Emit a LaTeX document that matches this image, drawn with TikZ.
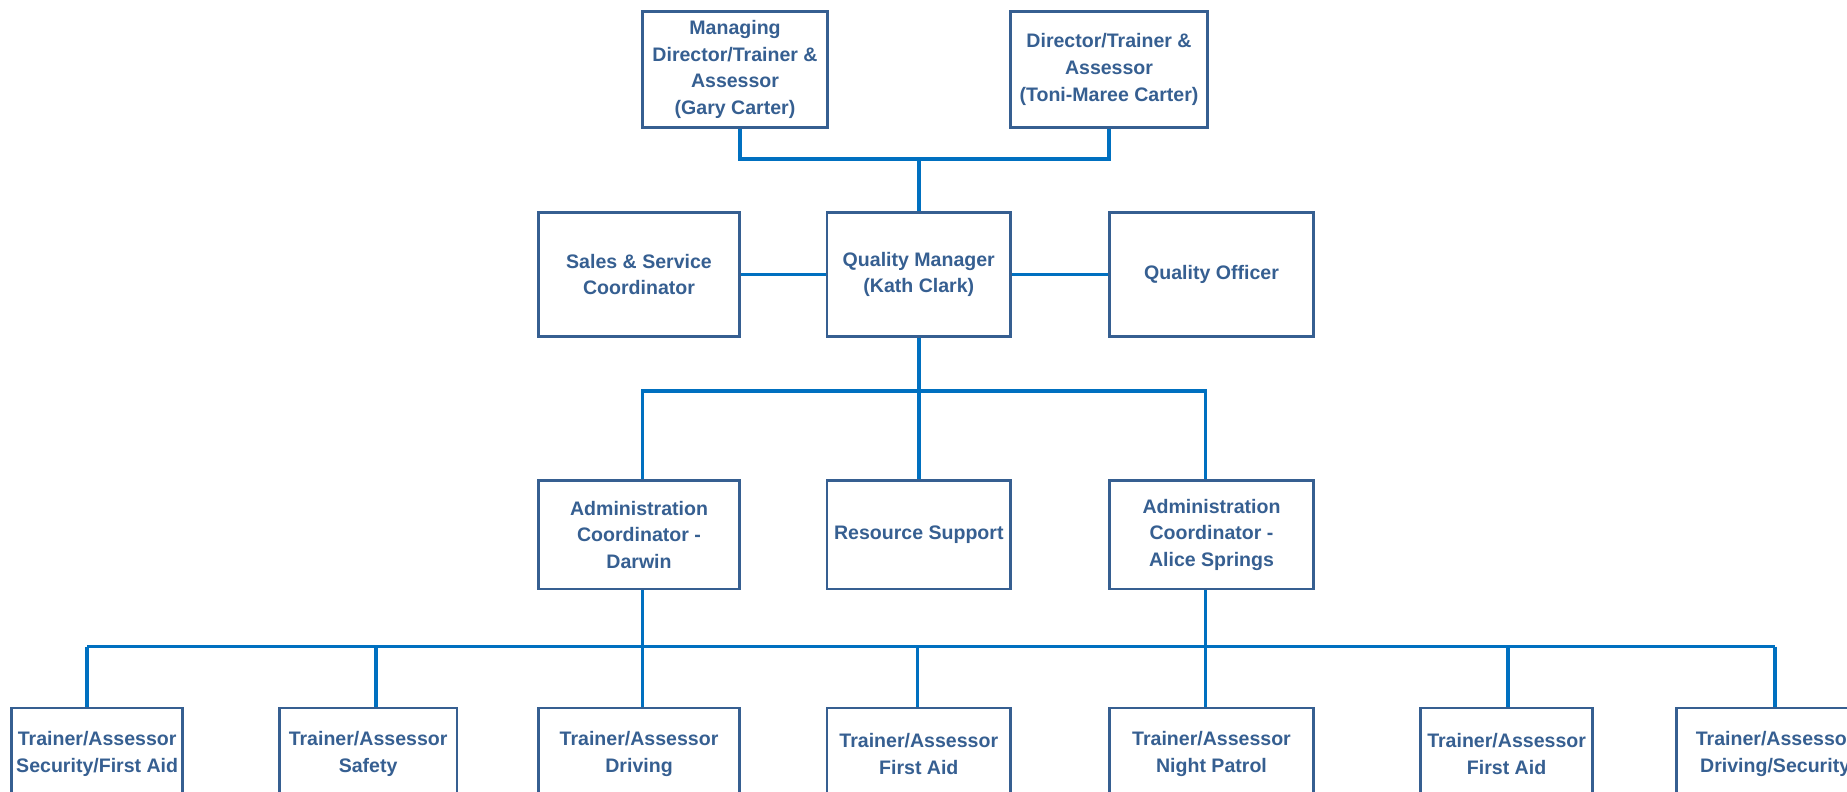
\documentclass[tikz,border=0pt]{standalone}
\usepackage{fontspec}
\setmainfont{Liberation Sans}
\usepackage{xcolor}
\usepackage{tikz}
\usetikzlibrary{positioning,calc}

\definecolor{boxblue}{RGB}{54,95,145}
\definecolor{linkblue}{RGB}{0,112,192}
\newcommand{\orgfont}{\bfseries\fontsize{8.3}{11.3}\selectfont}

\tikzset{
    orgbox/.style 2 args={draw=boxblue, line width=1.2pt, text=boxblue, font=\orgfont,
        align=center, inner sep=1pt, minimum width=#1*0.5pt, minimum height=#2*0.5pt},
    link/.style={draw=linkblue, line width=1.5pt}
}

\begin{document}
\begin{tikzpicture}[x=0.5pt, y=-0.5pt]
    \useasboundingbox (0,0) rectangle (1568,672);
    \clip (0,0) rectangle (1568,672);

    % Directors
    \node[orgbox={157}{98}] (md) at (624,59) {Managing\\Director/Trainer \&\\Assessor\\(Gary Carter)};
    \node[orgbox={167}{98}] (dir) at (941.5,59) {Director/Trainer \&\\Assessor\\(Toni-Maree Carter)};

    % Quality row
    \node[orgbox={171}{105}] (sales) at (542.5,233) {Sales \& Service\\Coordinator};
    \node[orgbox={156}{105}] (qm) at (780,233) {Quality Manager\\(Kath Clark)};
    \node[orgbox={173}{105}] (qo) at (1028.5,233) {Quality Officer};

    % Coordinators
    \node[orgbox={171}{92}] (darwin) at (542.5,454) {Administration\\Coordinator -\\Darwin};
    \node[orgbox={156}{92}] (res) at (780,454) {Resource Support};
    \node[orgbox={173}{92}] (alice) at (1028.5,454) {Administration\\Coordinator -\\Alice Springs};

    % Trainers
    \node[orgbox={145}{78}] (t1) at (82.5,640) {Trainer/Assessor\\Security/First Aid};
    \node[orgbox={151}{78}] (t2) at (312.5,640) {Trainer/Assessor\\Safety};
    \node[orgbox={171}{78}] (t3) at (542.5,640) {Trainer/Assessor\\Driving};
    \node[orgbox={156}{78}] (t4) at (780,640) {Trainer/Assessor\\First Aid};
    \node[orgbox={173}{78}] (t5) at (1028.5,640) {Trainer/Assessor\\Night Patrol};
    \node[orgbox={146}{78}] (t6) at (1279,640) {Trainer/Assessor\\First Aid};
    \node[orgbox={168}{78}] (t7) at (1507,640) {Trainer/Assessor\\Driving/Security};

    % Directors to quality manager
    \coordinate (topbus) at (780,135);
    \coordinate (mdtap) at (628,135);
    \draw[link] (md.south -| mdtap) -- (mdtap) -- (topbus) -| (dir.south);
    \draw[link] (topbus) -- (qm.north);
    \draw[link] (sales) -- (qm);
    \draw[link] (qm) -- (qo);

    % Trainer bus drops
    \foreach \n/\cx in {1/74,2/319,3/545.5,4/779,5/1023.5,6/1280,7/1507} {
        \coordinate (drop\n) at (\cx,549);
        \draw[link] (drop\n) -- (drop\n |- t\n.north);
    }
    \draw[link] (drop1) -- (drop7);

    % Quality manager to coordinators
    \coordinate (qbus) at (780,332);
    \draw[link] (qm.south) -- (res.north);
    \draw[link] (darwin.north -| drop3) |- (qbus) -| (alice.north -| drop5);

    % Coordinators to trainers
    \draw[link] (darwin.south -| drop3) -- (drop3);
    \draw[link] (alice.south -| drop5) -- (drop5);
\end{tikzpicture}
\end{document}
